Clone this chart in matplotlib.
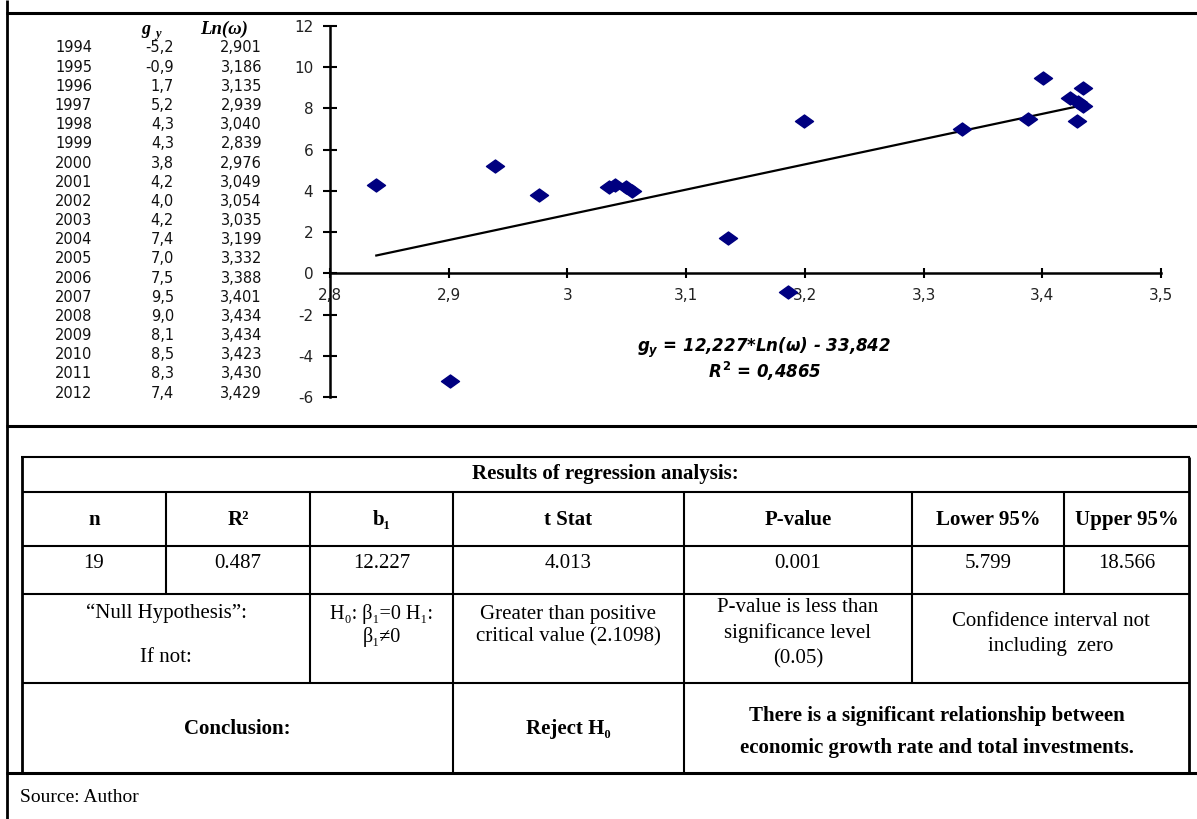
"""
Regression of economic growth rate g_y on Ln(total investments), 1994-2012,
with the data listing and the regression results table below it.
"""
import numpy as np
import matplotlib.pyplot as plt
from matplotlib.path import Path
from matplotlib.ticker import FuncFormatter

plt.rcParams['axes.unicode_minus'] = False
plt.rcParams['mathtext.fontset'] = 'custom'
plt.rcParams['mathtext.it'] = 'DejaVu Sans:italic:bold'
plt.rcParams['mathtext.rm'] = 'DejaVu Sans:bold'

SANS = 'DejaVu Sans'
SERIF = ['Liberation Serif', 'DejaVu Serif']

# data listing
years = [1994, 1995, 1996, 1997, 1998, 1999, 2000, 2001, 2002, 2003,
         2004, 2005, 2006, 2007, 2008, 2009, 2010, 2011, 2012]
g_y = [-5.2, -0.9, 1.7, 5.2, 4.3, 4.3, 3.8, 4.2, 4.0, 4.2,
       7.4, 7.0, 7.5, 9.5, 9.0, 8.1, 8.5, 8.3, 7.4]
ln_w = [2.901, 3.186, 3.135, 2.939, 3.040, 2.839, 2.976, 3.049, 3.054, 3.035,
        3.199, 3.332, 3.388, 3.401, 3.434, 3.434, 3.423, 3.430, 3.429]

x_ticks = [2.8, 2.9, 3.0, 3.1, 3.2, 3.3, 3.4, 3.5]
y_ticks = [-6, -4, -2, 0, 2, 4, 6, 8, 10, 12]

# regression table
col_heads = ['n', 'R²', 'b₁', 't Stat', 'P-value', 'Lower 95%', 'Upper 95%']
col_vals = ['19', '0.487', '12.227', '4.013', '0.001', '5.799', '18.566']

W, H = 1197, 819
fig = plt.figure(figsize=(W / 100, H / 100), dpi=100)

# pixel canvas for frames, tables and listing
bg = fig.add_axes([0, 0, 1, 1])
bg.set_xlim(0, W)
bg.set_ylim(H, 0)
bg.axis('off')

def hline(y, x0, x1, lw=1.5):
    bg.plot([x0, x1], [y, y], color='black', lw=lw, solid_capstyle='butt')

def vline(x, y0, y1, lw=1.5):
    bg.plot([x, x], [y0, y1], color='black', lw=lw, solid_capstyle='butt')

# outer frame
vline(7, 0, H, lw=2)
hline(13, 6, W, lw=2.2)
hline(426, 6, W, lw=2.2)
hline(773, 6, W, lw=2.2)

# data listing
row_y0, row_dy = 48, 19.17
for i, (yr, g, lw_) in enumerate(zip(years, g_y, ln_w)):
    yy = row_y0 + i * row_dy
    bg.text(92, yy, str(yr), ha='right', va='center', fontsize=10.5,
            family=SANS, color='#111111')
    bg.text(174, yy, f'{g:.1f}'.replace('.', ','), ha='right', va='center',
            fontsize=10.5, family=SANS, color='#111111')
    bg.text(262, yy, f'{lw_:.3f}'.replace('.', ','), ha='right', va='center',
            fontsize=10.5, family=SANS, color='#111111')
bg.text(146, 30, 'g', ha='center', va='center', fontsize=13, family=SERIF,
        weight='bold', style='italic')
bg.text(158, 34, 'y', ha='center', va='center', fontsize=9, family=SERIF,
        weight='bold', style='italic')
bg.text(224, 29, 'Ln(ω)', ha='center', va='center', fontsize=13.5, family=SERIF,
        weight='bold', style='italic')

# scatter chart
ax = fig.add_axes([330 / W, 1 - 397 / H, (1161 - 330) / W, (397 - 26) / H])
ax.patch.set_alpha(0)
ax.set_xlim(2.8, 3.5)
ax.set_ylim(-6, 12)
for s in ['top', 'right']:
    ax.spines[s].set_visible(False)
ax.spines['bottom'].set_position(('data', 0))
ax.spines['left'].set_linewidth(1.8)
ax.spines['bottom'].set_linewidth(1.8)
ax.set_xticks(x_ticks)
ax.set_yticks(y_ticks)
ax.xaxis.set_major_formatter(FuncFormatter(lambda v, p: ('%g' % v).replace('.', ',')))
ax.tick_params(axis='x', direction='inout', length=7, width=1.5, pad=7,
               labelsize=11, labelcolor='#222222')
ax.tick_params(axis='y', direction='inout', length=10, width=1.5, pad=7,
               labelsize=11, labelcolor='#222222')
for lab in ax.get_xticklabels() + ax.get_yticklabels():
    lab.set_family(SANS)

diamond = Path([(-1, 0), (0, 0.72), (1, 0), (0, -0.72), (-1, 0)],
               [Path.MOVETO, Path.LINETO, Path.LINETO, Path.LINETO, Path.CLOSEPOLY])
ax.plot(ln_w, g_y, linestyle='none', marker=diamond, markersize=13,
        color='#000080', zorder=3, clip_on=False)

b1, b0 = np.polyfit(ln_w, g_y, 1)
xs = np.array([min(ln_w), max(ln_w)])
ax.plot(xs, b1 * xs + b0, color='black', lw=1.6, zorder=2)

px2x = lambda px: 2.8 + (px - 330) / (1161 - 330) * 0.7
ax.text(px2x(764), -3.6, r'$g_y$' + ' = 12,227*Ln(ω) - 33,842', fontsize=12,
        family=SANS, weight='bold', style='italic', ha='center', va='center')
ax.text(px2x(765), -4.75, r'$R^2$' + ' = 0,4865', fontsize=12, family=SANS,
        weight='bold', style='italic', ha='center', va='center')

# regression results table
cx = [22, 166, 310, 453, 684, 912, 1064, 1189]
ry = [457, 492, 546, 594, 683, 773]
TS = 15

hline(ry[0], cx[0] - 1, cx[-1] + 1)
for y in ry[1:-1]:
    hline(y, cx[0], cx[-1])
vline(cx[0], ry[0], ry[-1], lw=2)
vline(cx[-1], ry[0], ry[-1], lw=2)
for x in cx[1:-1]:
    vline(x, ry[1], ry[3])
for x in [cx[2], cx[3], cx[4], cx[5]]:
    vline(x, ry[3], ry[4])
for x in [cx[3], cx[4]]:
    vline(x, ry[4], ry[5])

def cell(x0, x1, y, s, bold=False, size=TS):
    bg.text((x0 + x1) / 2, y, s, ha='center', va='center', fontsize=size,
            family=SERIF, weight='bold' if bold else 'normal')

cell(cx[0], cx[-1], 474, 'Results of regression analysis:', bold=True)
for i, (h, v) in enumerate(zip(col_heads, col_vals)):
    cell(cx[i], cx[i + 1], 520, h, bold=True)
    cell(cx[i], cx[i + 1], 564, v)

cell(cx[0], cx[2], 613, '“Null Hypothesis”:')
cell(cx[0], cx[2], 657, 'If not:')
cell(cx[2], cx[3], 614, 'H₀: β₁=0 H₁:', size=14.5)
cell(cx[2], cx[3], 637, 'β₁≠0', size=14.5)
cell(cx[3], cx[4], 614, 'Greater than positive')
cell(cx[3], cx[4], 637, 'critical value (2.1098)')
cell(cx[4], cx[5], 607, 'P-value is less than')
cell(cx[4], cx[5], 633, 'significance level')
cell(cx[4], cx[5], 659, '(0.05)')
cell(cx[5], cx[-1], 621, 'Confidence interval not')
cell(cx[5], cx[-1], 646, 'including  zero')

cell(cx[0], cx[3], 729, 'Conclusion:', bold=True)
cell(cx[3], cx[4], 729, 'Reject H₀', bold=True)
cell(cx[4], cx[-1], 716, 'There is a significant relationship between', bold=True)
cell(cx[4], cx[-1], 748, 'economic growth rate and total investments.', bold=True)

bg.text(20, 797, 'Source: Author', ha='left', va='center', fontsize=14, family=SERIF)

plt.savefig('out.png', dpi=100)
